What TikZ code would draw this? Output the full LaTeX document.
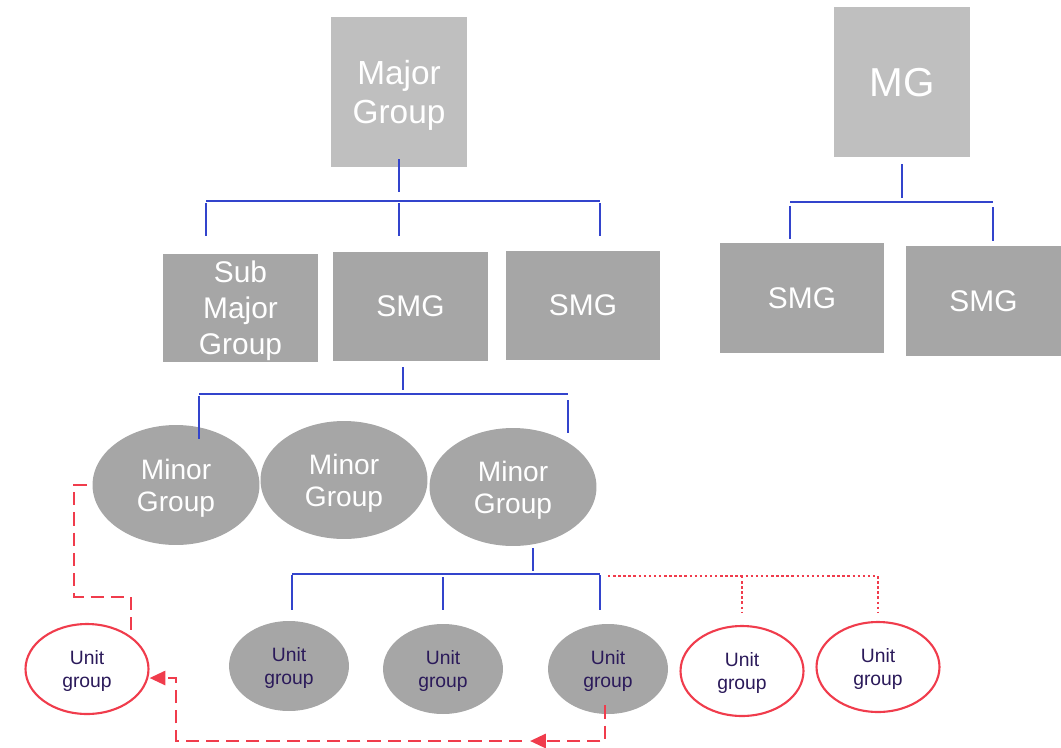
\documentclass[tikz,border=0pt]{standalone}
\usepackage{fontspec}
\setmainfont{Liberation Sans}
\usetikzlibrary{shapes.geometric,arrows.meta,calc}
\definecolor{grplight}{HTML}{BFBFBF}
\definecolor{grpdark}{HTML}{A6A6A6}
\definecolor{busblue}{HTML}{3344CC}
\definecolor{newred}{HTML}{F03C4C}
\definecolor{unittext}{HTML}{2B1A5A}

\begin{document}
\begin{tikzpicture}[x=0.02cm, y=-0.02cm,
    majorbox/.style={fill=grplight, text=white, align=center, inner sep=0pt, text depth=0pt},
    smgbox/.style={fill=grpdark, text=white, align=center, inner sep=0pt, text depth=0pt, minimum width=3.1cm, minimum height=2.18cm, font=\fontsize{17}{20.5}\selectfont},
    minorgrp/.style={ellipse, fill=grpdark, text=white, align=center, inner sep=0pt, text depth=0pt, minimum width=3.34cm, minimum height=2.36cm, font=\fontsize{16}{18.2}\selectfont},
    unitgrp/.style={ellipse, fill=grpdark, text=unittext, align=center, inner sep=0pt, text depth=0pt, minimum width=2.4cm, minimum height=1.8cm, font=\fontsize{11}{13}\selectfont},
    unitnew/.style={unitgrp, fill=white, draw=newred, line width=1.2pt, minimum width=2.46cm, minimum height=1.8cm},
    bus/.style={draw=busblue, line width=0.9pt},
    newlink/.style={draw=newred, line width=1.5pt, dash pattern=on 1.4pt off 1.5pt},
    movelink/.style={draw=newred, line width=1.5pt, dash pattern=on 7.5pt off 4pt},
]
    \useasboundingbox (0,0) rectangle (1061,747);

    % major groups
    \node[majorbox, minimum width=2.72cm, minimum height=3cm, font=\fontsize{19}{22.2}\selectfont] (major) at (399,92) {Major\\Group};
    \node[majorbox, minimum width=2.72cm, minimum height=3cm, font=\fontsize{23}{26}\selectfont] (mg) at (902,82) {MG};

    % sub major groups
    \node[smgbox] (sub) at (240.5,308) {Sub\\Major\\Group};
    \node[smgbox] (smga) at (410.5,306.5) {SMG};
    \node[smgbox, minimum height=2.18cm] (smgb) at (583,305.5) {SMG};
    \node[smgbox, minimum width=3.28cm, minimum height=2.2cm] (smgc) at (802,298) {SMG};
    \node[smgbox, minimum height=2.2cm] (smgd) at (983.5,301) {SMG};

    % minor groups
    \node[minorgrp, minimum height=2.4cm] (minora) at (176,485) {Minor\\Group};
    \node[minorgrp] (minorb) at (344,480) {Minor\\Group};
    \node[minorgrp] (minorc) at (513,487) {Minor\\Group};

    % unit groups
    \node[unitnew] (unita) at (87,669) {Unit\\group};
    \node[unitgrp] (unitb) at (289,666) {Unit\\group};
    \node[unitgrp] (unitc) at (443,669) {Unit\\group};
    \node[unitgrp] (unitd) at (608,669) {Unit\\group};
    \node[unitnew] (unite) at (742,671) {Unit\\group};
    \node[unitnew] (unitf) at (878,667) {Unit\\group};

    % major group tree
    \coordinate (mj1) at (206,201);
    \coordinate (mj3) at (600,201);
    \draw[bus] ($(major.south)+(0,-8)$) -- ++(0,33);
    \draw[bus] (mj1) -- (mj3);
    \draw[bus] (mj1) ++(0,2) -- ++(0,33);
    \draw[bus] (mj1 -| major) ++(0,2) -- ++(0,33);
    \draw[bus] (mj3) ++(0,2) -- ++(0,33);

    % MG tree
    \coordinate (mg1) at (790,202);
    \coordinate (mg2) at (993,202);
    \draw[bus] ($(mg.south)+(0,7)$) -- ++(0,34);
    \draw[bus] (mg1) -- (mg2);
    \draw[bus] (mg1) ++(0,4) -- ++(0,33);
    \draw[bus] (mg2) ++(0,5) -- ++(0,34);

    % SMG tree
    \coordinate (sm1) at (199,394);
    \coordinate (sm3) at (568,394);
    \draw[bus] ($(smga.south)+(-7.5,6)$) -- ++(0,23);
    \draw[bus] (sm1) -- (sm3);
    \draw[bus] (sm1) ++(0,2) -- ++(0,43);
    \draw[bus] (sm3) ++(0,6) -- ++(0,33);

    % minor group tree
    \coordinate (mn1) at (292,574);
    \coordinate (mn3) at (600,574);
    \draw[bus] ($(minorc.south)+(20,2)$) -- ++(0,23);
    \draw[bus] (mn1) -- (mn3);
    \draw[bus] (mn1) ++(0,1) -- ++(0,35);
    \draw[bus] (mn1 -| unitc) ++(0,3) -- ++(0,33);
    \draw[bus] (mn3) ++(0,1) -- ++(0,35);

    % new unit groups
    \coordinate (nw1) at (608,576);
    \coordinate (nw3) at (878,576);
    \draw[newlink] (nw1) -- (nw3) -- ++(0,36);
    \draw[newlink] (nw1 -| unite) -- ++(0,36);

    % moved unit groups
    \coordinate (mvtop) at (131,597);
    \coordinate (mvend) at (131,634);
    \coordinate (mvmid) at (530,741);
    \draw[movelink] ($(minora.west)+(-5,0)$) -- ++(-13,0) |- (mvtop) -- (mvend);
    \draw[movelink, -{Triangle[length=9pt,width=8pt]}] ($(unitd.south)+(-3,-9)$) |- (mvmid);
    \draw[movelink, -{Triangle[length=9pt,width=8pt]}] ($(mvmid)+(-8,0)$) -| (176,678) -- ($(unita.east)+(0,9)$);
\end{tikzpicture}
\end{document}
